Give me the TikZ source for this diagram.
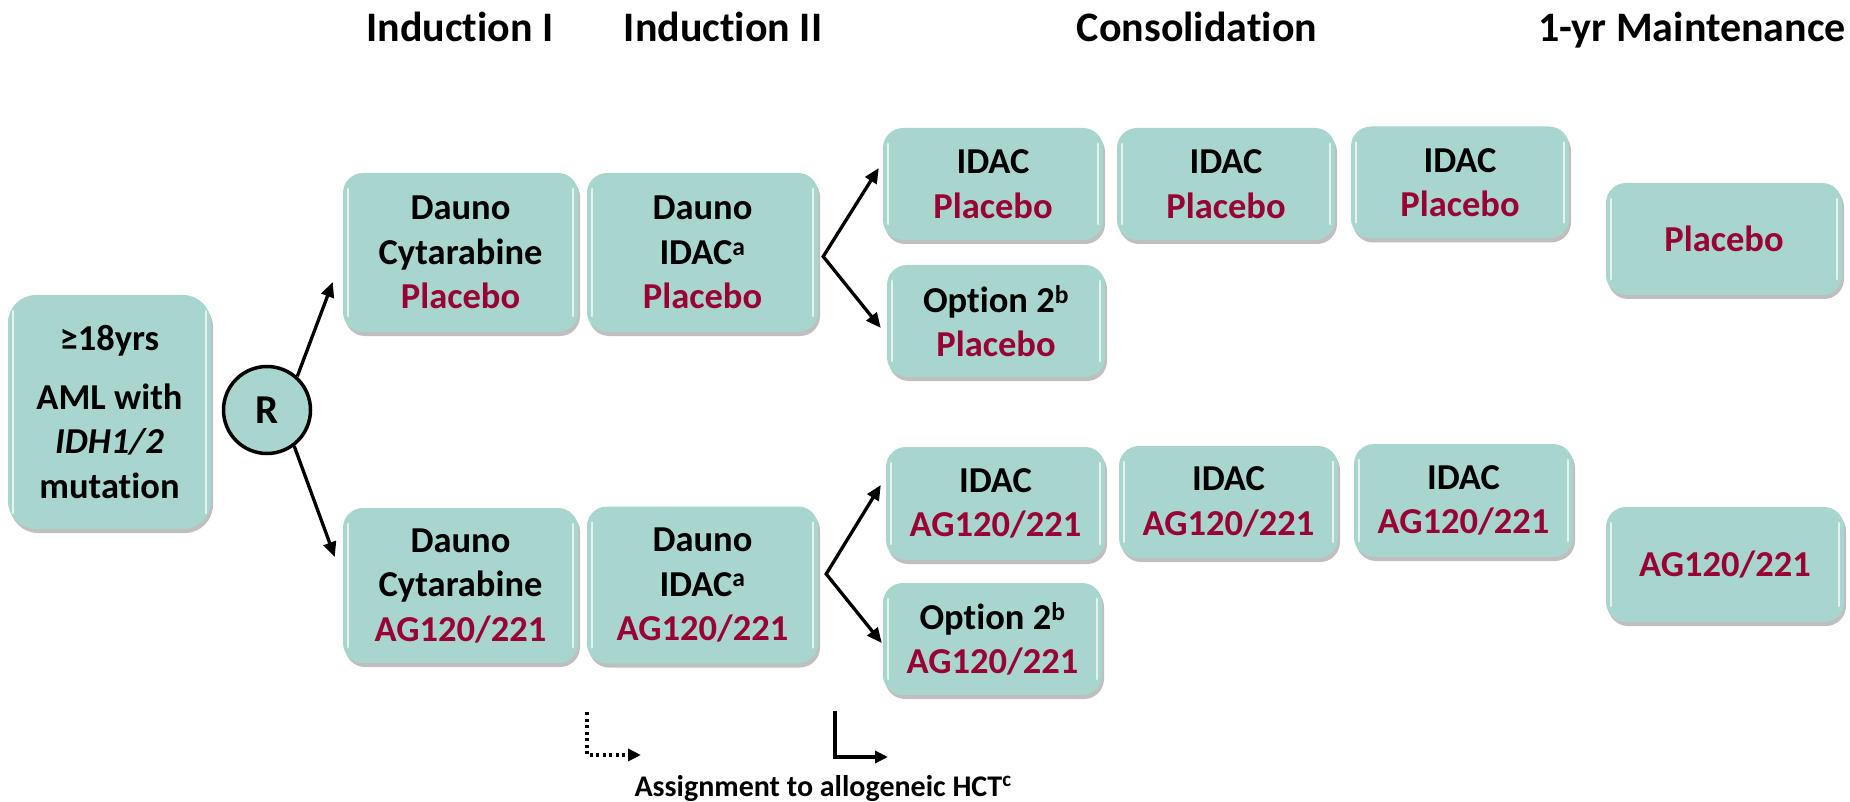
\documentclass[tikz,border=0pt]{standalone}
\usepackage{fontspec}
\setmainfont{Carlito}[Ligatures=NoCommon]
\usetikzlibrary{arrows.meta,shadows,calc}
\definecolor{boxfill}{HTML}{A8D6CE}
\definecolor{drug}{HTML}{990033}
\newcommand\bxfont{\fontsize{36.5}{44.5}\selectfont\bfseries}
\newcommand\drg[1]{{\color{drug}#1}}
\tikzset{
  hl/.style={path picture={
    \draw[white, opacity=0.7, line width=2.5pt, line cap=round]
      ([xshift=5pt,yshift=-16pt]path picture bounding box.north west) --
      ([xshift=5pt,yshift=16pt]path picture bounding box.south west);
    \draw[white, opacity=0.7, line width=2.5pt, line cap=round]
      ([xshift=-5pt,yshift=-16pt]path picture bounding box.north east) --
      ([xshift=-5pt,yshift=16pt]path picture bounding box.south east);
  }},
  box/.style={rounded corners=20pt, fill=boxfill, inner sep=0pt, align=center,
    font=\bxfont, text=black,
    drop shadow={shadow xshift=2pt, shadow yshift=-4pt, opacity=0.25, fill=black}, hl},
  hdr/.style={anchor=base, font=\fontsize{42}{42}\selectfont\bfseries},
  arr/.style={line width=3.3pt, -{Triangle[length=15pt,width=13pt]}},
  fork/.style={line width=3.3pt, line join=miter,
    {Triangle[length=15pt,width=13pt]}-{Triangle[length=15pt,width=13pt]}},
}
\begin{document}
\begin{tikzpicture}[x=1pt,y=-1pt]
\useasboundingbox[fill=white] (0,0) rectangle (1850,802);

% headers
\node[hdr] (h1) at (460,42) {Induction I};
\node[hdr] (h2) at (723,42) {Induction II};
\node[hdr] (h3) at (1197,42) {Consolidation};
\node[hdr] (h4) at (1692,42) {1-yr Maintenance};

% start box and randomisation
\node[box, rounded corners=28pt, minimum width=203pt, minimum height=234pt] (start) at (109.5,412)
  {≥18yrs\\[14pt]AML with\\\textit{IDH1/2}\\mutation};
\node[circle, draw, line width=3.5pt, fill=boxfill, minimum size=87pt, inner sep=0pt,
  font=\fontsize{41}{41}\selectfont\bfseries] (R) at (267,410) {R};

% placebo arm
\node[box, minimum width=235pt, minimum height=159pt] (i1a) at (460.5,252.5)
  {Dauno\\Cytarabine\\\drg{Placebo}};
\node[box, minimum width=231pt, minimum height=159pt] (i2a) at (702.5,252.5)
  {Dauno\\IDAC\textsuperscript{a}\\\drg{Placebo}};
\node[box, minimum width=220pt, minimum height=112pt] (c1a) at (993,184) {IDAC\\\drg{Placebo}};
\node[box, minimum width=218pt, minimum height=112pt] (c2a) at (1226,184) {IDAC\\\drg{Placebo}};
\node[box, minimum width=218pt, minimum height=112pt] (c3a) at (1460,182.5) {IDAC\\\drg{Placebo}};
\node[box, minimum width=218pt, minimum height=112pt] (o2a) at (996,321)
  {Option 2\textsuperscript{b}\\\drg{Placebo}};
\node[box, minimum width=236pt, minimum height=112pt] (ma) at (1724,239) {\drg{Placebo}};

% AG120/221 arm
\node[box, minimum width=235pt, minimum height=155pt] (i1b) at (460.5,585.5)
  {Dauno\\Cytarabine\\\drg{AG120/221}};
\node[box, minimum width=231pt, minimum height=157pt] (i2b) at (702.5,585)
  {Dauno\\IDAC\textsuperscript{a}\\\drg{AG120/221}};
\node[box, minimum width=219pt, minimum height=113pt] (c1b) at (995.5,503.5) {IDAC\\\drg{AG120/221}};
\node[box, minimum width=219pt, minimum height=112pt] (c2b) at (1228.5,502) {IDAC\\\drg{AG120/221}};
\node[box, minimum width=219pt, minimum height=113pt] (c3b) at (1463.5,500.5) {IDAC\\\drg{AG120/221}};
\node[box, minimum width=219pt, minimum height=112pt] (o2b) at (992.5,639)
  {Option 2\textsuperscript{b}\\\drg{AG120/221}};
\node[box, minimum width=238pt, minimum height=115pt] (mb) at (1725,564.5) {\drg{AG120/221}};

% connectors
\coordinate (tr1) at ($(i1a.west)+(-10,29.5)$);
\coordinate (tr2) at ($(i1b.west)+(-8,-28.5)$);
\draw[arr] (R.48) -- (tr1);
\draw[arr] (R.-53) -- (tr2);

\coordinate (fa) at ($(i2a.east)+(5,4)$);
\coordinate (ta1) at ($(c1a.west)+(-4,-16)$);
\coordinate (ta2) at ($(o2a.west)+(-6,7)$);
\draw[fork] (ta1) -- (fa) -- (ta2);

\coordinate (fb) at ($(i2b.east)+(8,-11)$);
\coordinate (tb1) at ($(c1b.west)+(-5,-18.5)$);
\coordinate (tb2) at ($(o2b.west)+(-1,4)$);
\draw[fork] (tb1) -- (fb) -- (tb2);

% HCT assignment
\coordinate (d1) at (587,712);
\coordinate (d2) at (641,755);
\draw[line width=3.3pt, dash pattern=on 3pt off 3.5pt, -{Triangle[length=13pt,width=12pt]}] (d1) |- (d2);
\coordinate (s1) at (835,711);
\coordinate (s2) at (888,757);
\draw[line width=3.3pt, -{Triangle[length=13pt,width=12pt]}] (s1) |- (s2);
\node[anchor=base west, font=\fontsize{30}{30}\selectfont\bfseries] (hct) at (631,796)
  {Assignment to allogeneic HCT\textsuperscript{c}};
\end{tikzpicture}
\end{document}
